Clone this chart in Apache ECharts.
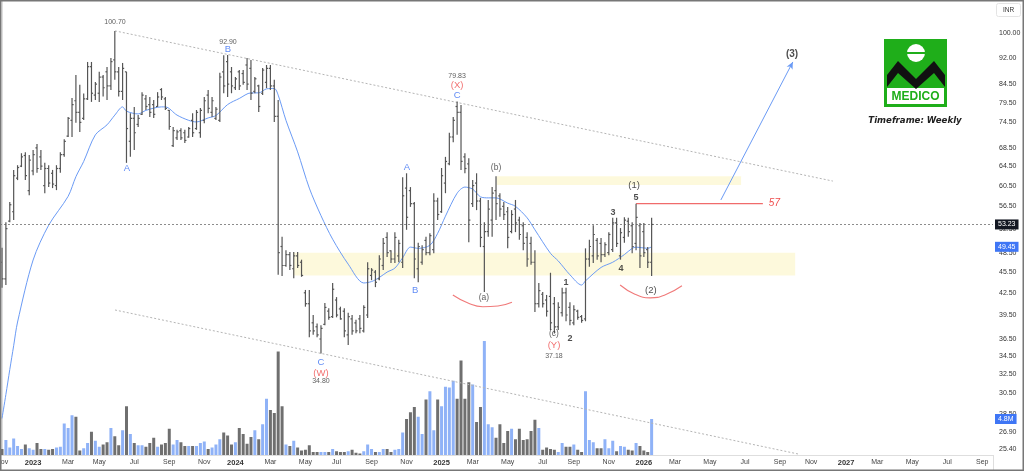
<!DOCTYPE html>
<html><head><meta charset="utf-8">
<script src="https://cdn.jsdelivr.net/npm/echarts@6/dist/echarts.min.js"></script>
<style>html,body{margin:0;padding:0;background:#fff}#c{width:1024px;height:471px}</style>
</head><body><div id="c"></div>
<script>
// ---------- DATA (weekly bars, first bar = week of 2022-11-07) ----------
const firstWeek = '2022-11-07';
const open = [47.0,44.5,53.8,55.5,62.0,64.5,66.8,59.5,63.5,68.5,66.5,60.5,64.0,63.0,60.5,64.0,67.0,71.2,75.0,80.0,
77.0,75.5,80.5,89.5,81.5,82.0,86.5,88.0,84.0,91.5,88.0,82.5,88.0,70.0,75.5,74.0,76.5,80.5,79.0,79.0,
78.5,83.0,80.5,77.5,69.0,70.8,72.5,72.0,71.0,75.0,73.0,72.0,75.0,81.5,77.0,75.5,75.0,88.0,91.0,88.0,
83.5,88.0,87.5,90.0,89.0,82.5,84.0,82.0,85.0,89.0,84.0,76.0,49.5,46.5,48.2,46.0,48.0,47.0,42.5,41.0,
38.5,38.0,36.5,38.3,40.0,39.3,41.5,40.3,40.0,37.0,39.0,38.5,39.0,37.5,39.5,45.0,45.5,44.5,46.5,51.0,
48.8,47.5,48.0,47.0,60.0,59.5,57.0,46.0,47.0,50.5,48.5,49.0,57.5,55.5,61.0,65.0,71.0,78.5,77.0,66.5,
65.0,57.0,61.0,57.5,49.5,52.0,54.0,59.5,58.5,56.5,55.5,52.0,56.0,54.0,53.0,51.0,50.0,47.0,41.0,42.3,
41.5,42.0,41.0,38.0,39.8,42.5,40.5,38.5,40.0,39.3,39.0,47.5,48.0,50.5,50.0,48.2,48.5,49.0,53.5,48.0,
51.0,53.8,53.0,50.0,53.0,52.0,49.0,47.0];
const high = [49.3,53.6,57.3,63.7,64.7,67.3,67.5,66.9,68.0,69.4,68.0,65.2,64.7,63.7,64.7,67.5,70.5,75.8,80.7,87.1,
84.3,81.9,90.9,90.9,85.1,88.0,87.1,89.4,92.1,100.7,89.4,90.6,88.0,76.8,78.4,76.3,82.3,81.5,81.0,80.2,
82.3,83.4,81.0,77.6,73.4,72.7,73.1,72.7,73.4,76.8,77.6,78.1,81.0,82.9,81.0,78.4,87.7,92.9,93.0,89.4,
86.5,88.5,88.5,92.1,91.5,86.5,84.3,89.1,90.0,90.0,85.7,80.2,51.1,48.9,48.6,48.6,48.6,47.4,42.9,42.9,
39.5,38.4,38.2,41.1,40.4,43.9,41.9,40.6,40.4,39.8,39.5,38.9,39.5,40.8,47.0,46.1,45.8,48.1,50.9,51.9,
48.9,51.9,50.6,62.2,63.0,60.2,57.3,50.1,49.7,51.1,51.7,59.0,58.1,64.1,66.5,72.0,75.8,79.83,78.9,67.3,
66.2,61.6,63.0,58.1,53.6,57.7,60.2,62.4,59.0,57.3,56.4,55.8,57.7,54.6,53.6,51.9,51.1,48.9,43.9,42.6,
42.2,45.4,41.9,41.2,43.2,43.2,41.2,40.8,40.2,39.5,49.2,50.6,53.1,50.9,50.9,50.2,51.9,54.4,54.4,52.6,
54.5,54.4,53.6,57.0,53.5,53.5,49.4,54.4];
const low = [43.2,43.6,53.6,54.0,61.6,64.3,61.6,58.6,62.6,63.1,63.7,59.0,60.2,60.0,59.6,63.1,66.5,71.0,71.0,74.4,
72.2,75.1,80.2,79.7,80.2,79.7,81.1,80.2,82.9,85.7,81.1,80.2,65.2,66.5,68.0,73.4,76.3,77.6,75.8,75.6,
78.4,80.2,77.6,72.7,68.7,70.3,70.3,69.6,70.8,71.0,72.7,70.8,74.3,76.8,75.8,75.1,74.6,82.0,81.0,82.0,
82.9,82.9,84.3,82.9,80.2,82.0,77.1,81.5,83.4,82.9,74.6,45.1,44.9,46.3,45.8,44.6,46.1,44.8,40.6,36.7,
37.0,36.7,34.8,38.2,38.9,39.1,39.2,38.9,36.7,35.8,37.0,37.2,37.2,37.3,39.1,44.3,43.3,44.3,45.8,47.8,
46.9,46.9,47.0,46.1,52.3,56.4,44.6,44.0,46.6,48.1,48.1,48.4,54.0,55.3,59.0,64.7,69.8,71.5,63.7,63.0,
50.2,56.4,55.8,49.4,42.6,51.1,51.1,54.0,54.6,54.0,49.2,51.7,51.9,50.6,48.9,46.3,46.6,39.9,40.5,40.5,
39.3,37.6,37.18,37.6,39.3,38.7,38.2,38.2,38.9,38.5,38.7,46.3,46.9,47.4,47.0,47.8,48.1,48.6,49.4,47.4,
50.1,51.1,48.4,48.9,46.1,47.8,46.1,44.9];
const close = [44.5,52.5,56.8,62.5,64.2,66.5,62.5,65.8,67.0,64.0,64.5,64.0,61.0,60.8,64.0,67.0,70.0,75.5,79.0,77.0,
74.5,80.5,89.5,82.0,84.5,86.5,83.5,84.0,91.0,88.0,82.5,89.0,73.0,75.5,72.0,75.5,81.5,78.5,77.0,76.5,
81.0,81.0,78.0,73.5,72.5,72.2,70.8,70.2,73.0,72.0,77.0,77.5,80.0,78.0,80.0,77.8,86.5,84.0,84.5,84.0,
86.0,84.0,85.0,84.5,82.0,86.0,78.5,88.5,89.0,84.0,76.0,48.5,46.5,48.2,46.5,48.0,46.5,45.0,41.0,37.5,
37.5,37.0,37.8,40.5,39.2,43.0,39.5,39.0,37.5,39.3,37.5,37.5,37.8,40.5,46.0,45.8,44.0,47.5,50.0,48.5,
47.5,51.0,50.0,58.5,54.5,57.0,47.5,49.5,49.0,48.5,51.3,57.5,55.0,62.5,65.5,71.0,75.0,77.0,65.5,64.0,
54.0,60.5,57.5,51.0,52.0,56.0,59.0,57.0,56.0,55.0,51.0,55.0,53.5,51.5,50.0,47.5,47.0,41.0,42.8,41.0,
40.0,38.5,38.0,40.5,42.5,39.5,38.8,40.2,39.2,38.8,47.5,49.5,51.5,48.0,48.2,49.8,51.5,53.5,50.0,51.8,
54.0,52.0,49.5,54.5,48.0,48.5,47.0,53.23];
// weekly volume, millions of shares
const volumeM = [0.8,2.0,1.0,2.2,1.2,0.8,1.4,0.9,0.7,1.6,0.8,0.8,0.7,0.8,1.0,1.1,4.2,3.6,5.3,5.1,
0.6,0.9,1.6,3.1,1.9,1.1,1.4,1.7,3.6,2.5,1.3,3.3,6.5,2.8,1.6,1.3,1.3,1.1,1.6,2.3,
1.1,1.4,1.6,3.5,1.4,2.0,1.7,1.2,1.2,1.2,1.2,1.6,1.8,0.8,1.0,1.4,2.1,3.0,2.6,1.4,
1.7,3.6,2.8,1.5,2.4,3.3,2.1,4.1,7.5,6.0,5.6,13.8,6.5,1.4,1.2,1.9,1.0,0.6,0.7,1.3,
0.4,0.4,0.4,0.4,0.4,0.8,0.5,0.4,0.4,0.5,0.7,0.3,0.2,0.5,1.4,0.8,0.4,0.4,0.8,0.8,
0.4,0.7,0.8,3.0,4.8,5.7,6.4,5.1,2.8,7.4,8.5,3.3,7.4,6.5,9.1,9.0,9.9,7.5,12.6,7.5,
9.7,9.4,4.4,6.4,15.2,4.1,3.7,2.3,4.1,1.6,3.2,3.5,2.1,3.5,2.0,2.1,3.2,4.7,3.6,0.7,
1.0,0.8,0.7,0.4,1.6,1.1,1.1,1.4,0.7,0.4,8.5,2.0,1.7,0.9,0.9,2.1,0.9,1.9,0.5,1.2,
1.1,0.7,0.6,1.6,1.2,0.6,0.4,4.8];
// moving average: bar index / value
const maBar   = [0,1,2,3,4,8,12,17,19,21,24,27,29,31,32,35,37,41,42,45,48,50,53,55,58,61,64,66,68,70,71,73,76,79,82,85,89,93,95,97,99,101,103,105,107,110,112,114,117,119,121,123,125,127,130,132,135,137,141,143,146,149,150,154,157,160,162,163,166,167];
const maValue = [28.1,30.4,33.0,35.7,38.6,47.35,53.1,58.4,62.3,65.5,71.5,73.9,76.3,78.4,77.3,76.6,77.5,78.4,78.4,76.3,75.0,74.6,75.6,76.2,79.0,80.6,82.1,82.1,83.2,83.3,81.5,75.0,67.6,60.0,54.8,50.7,46.7,43.9,44.1,44.7,45.5,46.1,47.7,49.4,49.2,49.7,51.7,54.7,59.0,60.2,59.8,58.3,58.1,58.1,57.1,56.5,54.4,52.3,48.4,47.2,45.1,43.6,44.2,46.2,47.0,48.2,49.2,49.4,49.2,49.45];
// axis tick labels
const priceTicks = [100,92,84.5,79.5,74.5,68.5,64.5,60.5,56.5,52.5,48.5,45.5,42.5,39.5,36.5,34.5,32.5,30.5,28.5,26.9,25.4];
const timeTickDates = ['2022-11-07','2023-01-02','2023-03-06','2023-05-01','2023-07-03','2023-09-04','2023-11-06','2024-01-01','2024-03-04','2024-05-06','2024-07-01','2024-09-02','2024-11-04','2025-01-06','2025-03-03','2025-05-05','2025-07-07','2025-09-01','2025-11-03','2026-01-05','2026-03-02','2026-05-04','2026-07-06','2026-09-07','2026-11-02','2027-01-04','2027-03-01','2027-05-03','2027-07-05','2027-09-06'];
const timeTickLabels = ['Nov','2023','Mar','May','Jul','Sep','Nov','2024','Mar','May','Jul','Sep','Nov','2025','Mar','May','Jul','Sep','Nov','2026','Mar','May','Jul','Sep','Nov','2027','Mar','May','Jul','Sep'];
// annotations (bar index, price)
const zones = [[74.8, 203.9, 45.0, 48.5], [127.2, 190, 60.6, 62.4]];
const channelUpper = [[29.05, 100.7], [213.6, 61.4]];
const channelLower = [[29.05, 40.16], [205.0, 24.97]];
const targetLine = [[163, 57], [195.6, 57]];
const projection = [[184.8, 57.7], [203.3, 90.9]];
const arcA = [[115.9,42.2],[119.8,41.1],[123.6,40.6],[127.5,40.7],[131.1,41.2]];
const arcB = [[158.9,43.6],[162.7,42.3],[166.6,41.8],[170.4,42.2],[174.8,43.5]];
const waveLabels = [
 [29.05,103.7,'100.70','num'],[58.1,97.1,'92.90','num'],[58.1,94.6,'B','blue'],[32.1,64.1,'A','blue'],
 [117,86.8,'79.83','num'],[117,84.2,'(X)','red'],[117,81.4,'C','blue'],
 [104.1,64.3,'A','blue'],[106.2,42.9,'B','blue'],
 [82,33.8,'C','blue'],[82,32.6,'(W)','red'],[82,31.8,'34.80','num'],
 [127,64.1,'(b)','minor'],[123.9,41.8,'(a)','minor'],
 [162.5,60.6,'(1)','major'],[163,58.1,'5','imp'],[157.1,55.3,'3','imp'],[159.1,46.0,'4','imp'],[166.8,42.9,'(2)','major'],
 [145,44.0,'1','imp'],[146,36.6,'2','imp'],[141.9,37.1,'(c)','minor'],[141.9,35.7,'(Y)','red'],[141.9,34.5,'37.18','num'],
 [203.1,93.3,'(3)','majorBold']
];

// ---------- BUILD ----------
// x axis is measured in weeks since firstWeek
const WEEK = 7 * 24 * 3600 * 1000;
const T0 = Date.parse(firstWeek);
const t = i => i;
const weekOf = d => Math.round((Date.parse(d) - T0) / WEEK);
const FONT = '"Liberation Sans", Arial, sans-serif';
const UP = '#8fb2f7', DOWN = '#6f6f6f';
const NONE = 'rgba(0,0,0,0)';
const labelStyles = {
  num:  {fontSize: 7, color: '#333'},
  blue: {fontSize: 9.5, color: '#3a6ff2'},
  red:  {fontSize: 9.5, color: '#ef4b4b'},
  minor:{fontSize: 8.5, color: '#333'},
  major:{fontSize: 9.5, color: '#222'},
  majorBold:{fontSize: 10, color: '#222', fontWeight: 'bold'},
  imp:  {fontSize: 9, color: '#222', fontWeight: 'bold'}
};
const tickMap = {};
timeTickDates.forEach((d, k) => { tickMap[weekOf(d)] = timeTickLabels[k]; });
const lastClose = close[close.length - 1];
const lastMA = maValue[maValue.length - 1];
const lastVol = volumeM[volumeM.length - 1];
const boxLabel = (txt, bg) => ({show: true, position: 'end', formatter: txt, backgroundColor: bg, color: '#fff',
  fontSize: 7, padding: [2, 3, 1, 3], distance: 2, fontFamily: FONT, opacity: 1});
const seg = (a, b, lineStyle, extraEnd) => [
  {coord: [t(a[0]), a[1]], lineStyle: lineStyle, symbol: 'none'},
  Object.assign({coord: [t(b[0]), b[1]], lineStyle: lineStyle, symbol: 'none'}, extraEnd || {})
];
const channelStyle = {color: '#b5b5b5', type: [2, 2], width: 1, opacity: 1};

const chart = echarts.init(document.getElementById('c'), null, {renderer: 'canvas'});
chart.setOption({
  animation: false,
  backgroundColor: '#fff',
  textStyle: {fontFamily: FONT},
  grid: {left: 0, right: 31, top: 0, bottom: 16, containLabel: false, outerBoundsMode: 'none'},
  xAxis: {
    type: 'value', min: -0.514, max: 254.76,
    axisLine: {show: true, lineStyle: {color: '#dedede'}},
    axisTick: {show: false}, splitLine: {show: false},
    axisLabel: {
      customValues: timeTickDates.map(weekOf),
      hideOverlap: false, margin: 4, fontSize: 7, color: '#444',
      showMinLabel: true, showMaxLabel: true,
      formatter: v => { const s = tickMap[Math.round(v)] || ''; return /^\d{4}$/.test(s) ? '{y|' + s + '}' : s; },
      rich: {y: {fontWeight: 'bold', fontSize: 7.5, color: '#333'}}
    }
  },
  yAxis: [{
    type: 'log', logBase: 10, min: 24.91, max: 111.48, position: 'right',
    axisLine: {show: true, lineStyle: {color: '#dedede'}},
    axisTick: {show: false}, splitLine: {show: false}, minorTick: {show: false},
    axisLabel: {customValues: priceTicks, formatter: v => Number(v).toFixed(2), fontSize: 7, color: '#333', margin: 6,
      showMinLabel: true, showMaxLabel: true}
  }, {
    type: 'value', min: 0, max: 60.67, show: false
  }],
  graphic: [
    {type: 'rect', z: 100, shape: {x: 884, y: 39, width: 63, height: 68}, style: {fill: '#1fae1a'}},
    {type: 'rect', z: 101, shape: {x: 887, y: 88, width: 57, height: 16}, style: {fill: '#fff'}},
    {type: 'text', z: 102, style: {text: 'MEDICO', x: 915.5, y: 96.5, fill: '#1fae1a', font: 'bold 12px "Liberation Sans"', align: 'center', verticalAlign: 'middle'}},
    {type: 'circle', z: 101, shape: {cx: 916, cy: 53, r: 9}, style: {fill: '#fff'}},
    {type: 'rect', z: 102, shape: {x: 906.5, y: 52, width: 19, height: 2}, style: {fill: '#1fae1a'}},
    {type: 'polygon', z: 101, shape: {points: [[887,87],[887,75],[898,61],[916,79],[934,61],[945,75],[945,87],[934,73],[916,89],[898,73]]}, style: {fill: '#111'}},
    {type: 'text', z: 102, style: {text: 'Timeframe: Weekly', x: 915, y: 121, fill: '#222', font: 'italic bold 8.6px "DejaVu Sans"', align: 'center', verticalAlign: 'middle'}},
    {type: 'rect', z: 100, shape: {x: 996.5, y: 3.5, width: 24, height: 13, r: 2}, style: {fill: '#fff', stroke: '#e4e4e4', lineWidth: 1}},
    {type: 'text', z: 101, style: {text: 'INR', x: 1008.5, y: 10, fill: '#333', font: '6.5px "Liberation Sans"', align: 'center', verticalAlign: 'middle'}},
    {type: 'line', z: 100, shape: {x1: 993.5, y1: 455, x2: 993.5, y2: 471}, style: {stroke: '#dedede', lineWidth: 1}},
    {type: 'rect', z: 120, shape: {x: 0.75, y: 0.75, width: 1022.5, height: 469.5}, style: {fill: null, stroke: '#777', lineWidth: 1.5}}
  ],
  series: [
    {
      name: 'Volume', type: 'bar', xAxisIndex: 0, yAxisIndex: 1, barWidth: 3, z: 1, silent: true,
      data: volumeM.map((v, i) => ({value: [t(i), v], itemStyle: {color: close[i] >= open[i] ? UP : DOWN}})),
      markLine: {silent: true, symbol: ['none', 'none'], label: {show: false},
        data: [{yAxis: lastVol, lineStyle: {color: NONE, width: 1}, label: boxLabel(lastVol.toFixed(1) + 'M', '#3f76f5')}]}
    },
    {
      name: 'MA', type: 'line', z: 3, silent: true, showSymbol: false, smooth: 0.3,
      data: maBar.map((b, k) => [t(b), maValue[k]]),
      lineStyle: {color: '#6b9bf5', width: 1},
      markArea: {silent: true, itemStyle: {color: 'rgba(250,234,140,0.3)'},
        data: zones.map(z => [{coord: [t(z[0]), z[3]]}, {coord: [t(z[1]), z[2]]}])},
      markLine: {silent: true, symbol: ['none', 'none'], label: {show: false}, animation: false,
        data: [
          {yAxis: lastClose, lineStyle: {color: '#8c8c8c', type: [2, 2], width: 1}, label: boxLabel(lastClose.toFixed(2), '#131722')},
          {yAxis: lastMA, lineStyle: {color: NONE, width: 1}, label: boxLabel(lastMA.toFixed(2), '#3f76f5')},
          seg(channelUpper[0], channelUpper[1], channelStyle),
          seg(channelLower[0], channelLower[1], channelStyle),
          seg(projection[0], projection[1], {color: '#6b9bf5', type: 'solid', width: 1}, {symbol: 'arrow', symbolSize: [5, 7]})
        ]}
    },
    {
      name: 'Target', type: 'line', z: 4, silent: true, showSymbol: false,
      data: targetLine.map(p => [t(p[0]), p[1]]),
      lineStyle: {color: '#f06b6b', width: 1.2},
      endLabel: {show: true, formatter: String(targetLine[0][1]), color: '#ef4b4b', fontSize: 10, fontStyle: 'italic', distance: 6}
    },
    {
      name: 'Price', type: 'custom', z: 5, silent: true, clip: true,
      encode: {x: 0, y: [1, 2, 3, 4]},
      data: open.map((o, i) => [t(i), o, high[i], low[i], close[i]]),
      renderItem: function (params, api) {
        const x = api.value(0);
        const pO = api.coord([x, api.value(1)]);
        const pH = api.coord([x, api.value(2)]);
        const pL = api.coord([x, api.value(3)]);
        const pC = api.coord([x, api.value(4)]);
        const st = {stroke: '#555', lineWidth: 1.2};
        return {type: 'group', children: [
          {type: 'line', shape: {x1: pH[0], y1: pH[1], x2: pL[0], y2: pL[1]}, style: st},
          {type: 'line', shape: {x1: pO[0] - 1.6, y1: pO[1], x2: pO[0], y2: pO[1]}, style: st},
          {type: 'line', shape: {x1: pC[0], y1: pC[1], x2: pC[0] + 1.6, y2: pC[1]}, style: st}
        ]};
      }
    },
    {name: 'arcA', type: 'line', z: 4, silent: true, showSymbol: false, smooth: true,
      data: arcA.map(p => [t(p[0]), p[1]]), lineStyle: {color: '#f07a7a', width: 1.1}},
    {name: 'arcB', type: 'line', z: 4, silent: true, showSymbol: false, smooth: true,
      data: arcB.map(p => [t(p[0]), p[1]]), lineStyle: {color: '#f07a7a', width: 1.1}},
    {
      name: 'labels', type: 'scatter', z: 6, silent: true, symbolSize: 1,
      itemStyle: {color: 'transparent'},
      data: waveLabels.map(w => ({value: [t(w[0]), w[1]],
        label: Object.assign({show: true, position: 'inside', formatter: w[2], fontFamily: FONT}, labelStyles[w[3]])}))
    }
  ]
});
</script>
</body></html>
